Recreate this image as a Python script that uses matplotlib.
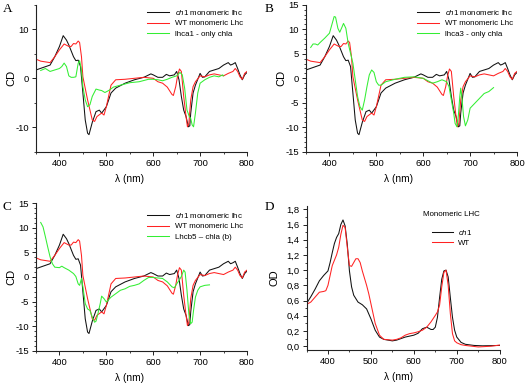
import matplotlib
matplotlib.use("Agg")
import matplotlib.pyplot as plt
from matplotlib.ticker import MultipleLocator, FuncFormatter

plt.rcParams['font.family'] = ['Liberation Sans', 'DejaVu Sans']
plt.rcParams['mathtext.fontset'] = 'custom'
plt.rcParams['mathtext.it'] = 'Liberation Sans:italic'
plt.rcParams['mathtext.rm'] = 'Liberation Sans'

# ---------------- CD data (panels A, B, C) ----------------
wl_ch1 = [350, 380, 390, 400, 408, 415, 420, 430, 435, 440, 445, 450, 455, 460, 463,
          470, 478, 485, 490, 500, 510, 520, 540, 560, 580, 595, 600, 610, 620, 628,
          635, 645, 650, 655, 660, 665, 670, 675, 678, 680, 685, 690, 700, 705, 710,
          720, 730, 740, 750, 760, 765, 770, 775, 780, 785, 790, 795, 800]
cd_ch1 = [1.7, 2.7, 4.4, 6.5, 8.7, 7.8, 6.8, 4.4, 3.6, 3.7, 2.4, -3.0, -8.5, -11.2, -11.5,
          -9.0, -6.8, -6.5, -7.1, -5.8, -3.0, -2.0, -1.0, -0.3, 0.2, 0.9, 0.7, 0.2, 0.2, 0.8,
          0.5, 0.7, 1.4, -0.3, -3.7, -6.5, -7.8, -9.9, -9.7, -7.1, -3.0, -1.4, 1.0, 0.2, 0.3,
          1.4, 1.7, 2.0, 2.7, 3.2, 2.7, 2.9, 3.2, 2.0, 0.7, -0.3, 0.7, 1.2]

wl_wt = [350, 360, 380, 390, 400, 410, 420, 425, 430, 435, 440, 443, 447, 450, 460,
         470, 475, 480, 490, 495, 500, 510, 520, 540, 560, 580, 600, 610, 620, 630,
         640, 643, 648, 652, 656, 660, 665, 670, 673, 676, 680, 685, 690, 700, 710,
         720, 730, 740, 750, 760, 770, 775, 780, 785, 790, 795, 800]
cd_wt = [3.9, 3.5, 3.2, 4.4, 5.8, 7.0, 6.5, 6.5, 7.1, 7.0, 7.6, 7.3, 4.4, 0.3, -4.4,
         -8.5, -8.8, -7.8, -7.1, -7.5, -5.8, -1.4, -0.3, -0.2, 0.0, 0.2, 0.0, -0.7, -1.0, -1.8,
         -3.3, -3.5, -1.7, 0.5, 1.9, 1.4, -3.7, -7.8, -9.9, -9.2, -4.4, -1.7, -0.7, 0.5, 0.3,
         0.7, 0.9, 0.7, 0.5, 1.0, 1.4, 2.0, 1.4, 0.3, -0.2, 1.0, 1.4]

wl_lhca1 = [360, 370, 380, 390, 400, 405, 410, 415, 420, 425, 430, 435, 440, 443, 447,
            450, 455, 460, 465, 470, 478, 485, 490, 497, 505, 515, 530, 550, 570, 590,
            600, 610, 620, 630, 640, 650, 657, 662, 667, 672, 677, 680, 683, 686, 690,
            695, 700, 710, 720, 730, 740, 748, 750]
cd_lhca1 = [1.6, 2.0, 1.4, 1.7, 2.0, 2.4, 3.1, 2.4, 0.5, 0.2, 0.2, 0.3, 3.1, 3.6, 1.7,
            -1.7, -4.4, -5.8, -5.4, -3.7, -2.2, -2.4, -2.5, -2.9, -2.5, -1.8, -1.4, -0.9, -0.7, -0.2,
            -0.2, -0.3, -0.5, -0.2, 0.2, 0.5, 1.2, 0.7, -2.0, -6.5, -7.8, -8.2, -9.5, -9.9, -7.1,
            -3.0, -1.0, -0.3, 0.2, 0.5, 0.3, 0.7, 0.5]

wl_lhca3 = [360, 365, 370, 375, 380, 390, 400, 405, 410, 413, 418, 422, 427, 430, 435,
            440, 445, 450, 455, 460, 465, 470, 475, 480, 485, 490, 495, 500, 505, 510,
            520, 540, 560, 580, 600, 610, 620, 630, 640, 650, 655, 660, 665, 668, 672,
            675, 678, 680, 683, 686, 690, 695, 700, 710, 720, 730, 740, 750]
cd_lhca3 = [6.3, 7.0, 7.0, 6.8, 7.3, 8.2, 9.2, 10.9, 12.6, 12.5, 10.2, 9.4, 10.5, 11.2, 10.2,
            7.1, 5.1, 3.1, -0.3, -3.7, -5.8, -6.5, -4.4, -1.7, 0.7, 1.7, 1.2, -0.7, -1.4, -1.4,
            -0.7, -0.2, 0.2, 0.3, 0.0, -0.5, -1.0, -0.7, -0.3, -0.7, -1.7, -4.4, -7.1, -9.2, -9.9,
            -7.5, -3.7, -2.0, -4.4, -7.8, -9.7, -8.5, -6.1, -5.1, -4.1, -3.1, -2.7, -1.9]

wl_lhcb5 = [360, 365, 370, 375, 380, 385, 390, 400, 405, 410, 420, 430, 435, 440, 443,
            447, 450, 455, 460, 465, 470, 475, 478, 482, 487, 490, 495, 500, 510, 520,
            530, 540, 550, 560, 570, 580, 590, 600, 610, 620, 630, 640, 645, 650, 655,
            660, 665, 668, 672, 676, 680, 683, 686, 690, 695, 700, 710, 720]
cd_lhcb5 = [11.1, 10.2, 8.2, 6.1, 4.1, 2.7, 2.0, 1.9, 2.2, 1.9, 1.4, 0.7, 0.1, -1.4, -1.7,
            -0.3, -2.0, -5.4, -6.5, -6.8, -8.2, -9.2, -9.0, -7.5, -5.4, -3.9, -4.4, -5.1, -4.1, -3.4,
            -2.7, -2.4, -1.9, -1.7, -1.4, -0.7, -0.1, -0.1, -0.2, -0.3, -1.0, -2.0, -2.2, -1.4, -0.7,
            0.1, 1.4, 1.0, -2.7, -7.5, -9.5, -9.2, -6.8, -4.1, -2.7, -2.0, -1.7, -1.6]

# ---------------- OD data (panel D) ----------------
wl_od_ch1 = [350, 360, 370, 380, 390, 400, 405, 410, 415, 420, 425, 430, 435, 440, 445,
             450, 455, 460, 470, 480, 490, 500, 510, 520, 530, 550, 560, 570, 580, 600,
             610, 620, 630, 640, 645, 650, 655, 660, 665, 670, 675, 680, 685, 690, 695,
             700, 710, 720, 740, 760, 800]
od_ch1 = [0.56, 0.65, 0.75, 0.86, 0.93, 0.99, 1.10, 1.23, 1.35, 1.43, 1.48, 1.60, 1.66, 1.58, 1.34,
          0.99, 0.78, 0.67, 0.58, 0.545, 0.49, 0.36, 0.21, 0.12, 0.09, 0.07, 0.08, 0.10, 0.12, 0.145,
          0.17, 0.23, 0.25, 0.22, 0.22, 0.25, 0.38, 0.64, 0.88, 0.99, 1.0, 0.91, 0.64, 0.38, 0.21,
          0.12, 0.05, 0.025, 0.01, 0.005, 0.01]

wl_od_wt = [350, 360, 370, 380, 390, 395, 400, 405, 410, 415, 420, 425, 430, 435, 440,
            445, 450, 455, 460, 465, 470, 475, 480, 490, 495, 500, 510, 520, 530, 550,
            560, 570, 580, 590, 600, 610, 620, 630, 640, 650, 655, 660, 665, 670, 675,
            680, 685, 690, 695, 700, 710, 720, 750, 780, 800]
od_wt = [0.55, 0.58, 0.645, 0.71, 0.72, 0.73, 0.80, 0.93, 1.06, 1.13, 1.20, 1.30, 1.47, 1.59, 1.56,
         1.30, 1.06, 1.05, 1.10, 1.15, 1.15, 1.10, 0.99, 0.80, 0.69, 0.56, 0.30, 0.145, 0.09, 0.08,
         0.09, 0.11, 0.145, 0.165, 0.175, 0.19, 0.21, 0.25, 0.32, 0.405, 0.45, 0.54, 0.78, 0.97, 1.0,
         0.80, 0.43, 0.165, 0.07, 0.045, 0.02, 0.01, -0.01, 0.0, 0.015]

panel_letters = ["A", "B", "C", "D"]
green_labels = ["lhca1 - only chla", "lhca3 - only chla", "Lhcb5 \u2013 chla (b)"]
ch1_label = r"$\it{ch1}$ monomeric lhc"
wt_label = "WT monomeric Lhc"

W, H = 526, 383
fig = plt.figure(figsize=(W / 100, H / 100), dpi=100)

def axes_px(left, right, top, bottom):
    return fig.add_axes([left / W, 1 - bottom / H, (right - left) / W, (bottom - top) / H])

axA = axes_px(36, 247, 4.8, 151.8)
axB = axes_px(306, 517, 4.8, 151.8)
axC = axes_px(36, 247, 203.3, 350.7)
axD = axes_px(306.5, 499.7, 205.5, 350)

BLACK = '#111111'
RED = '#ff2222'
GREEN = '#33ee33'
LW = 0.75
FS_TICK = 6.8
FS_LEG = 5.7

def style(ax):
    for s in ['top', 'right']:
        ax.spines[s].set_visible(False)
    for s in ['left', 'bottom']:
        ax.spines[s].set_linewidth(0.8)
        ax.spines[s].set_color('#222222')
    ax.tick_params(which='major', direction='out', length=3, width=0.7, labelsize=FS_TICK,
                   pad=2, color='#222222')
    ax.tick_params(which='minor', direction='out', length=1.6, width=0.6, color='#222222')
    ax.set_xlim(350, 800)
    ax.xaxis.set_major_locator(MultipleLocator(100))
    ax.xaxis.set_minor_locator(MultipleLocator(50))
    ax.set_xlabel("\u03bb (nm)", fontsize=FS_TICK + 0.5)

cd_axes = [axA, axB, axC]
greens = [(wl_lhca1, cd_lhca1), (wl_lhca3, cd_lhca3), (wl_lhcb5, cd_lhcb5)]
leg_anchor = [(147, 8), (417, 8), (147, 211)]

for i, ax in enumerate(cd_axes):
    style(ax)
    l1, = ax.plot(wl_ch1, cd_ch1, color=BLACK, lw=LW, label=ch1_label)
    l2, = ax.plot(wl_wt, cd_wt, color=RED, lw=LW, label=wt_label)
    gx, gy = greens[i]
    l3, = ax.plot(gx, gy, color=GREEN, lw=LW, label=green_labels[i])
    ax.set_ylim(-15, 15)
    if i == 0:
        ax.yaxis.set_major_locator(MultipleLocator(10))
        ax.yaxis.set_minor_locator(MultipleLocator(5))
    else:
        ax.yaxis.set_major_locator(MultipleLocator(5))
        ax.yaxis.set_minor_locator(MultipleLocator(1))
    ax.yaxis.set_major_formatter(FuncFormatter(lambda v, p: f"{v:g}"))
    ax.set_ylabel("CD", fontsize=FS_TICK + 1.2)
    lx, ly = leg_anchor[i]
    ax.legend(handles=[l1, l2, l3], loc='upper left',
              bbox_to_anchor=(lx / W, 1 - ly / H), bbox_transform=fig.transFigure,
              frameon=False, fontsize=FS_LEG, handlelength=2.8, handletextpad=0.75,
              borderpad=0, borderaxespad=0, labelspacing=0.35)

# panel D
style(axD)
d1, = axD.plot(wl_od_ch1, od_ch1, color=BLACK, lw=LW, label=r"$\it{ch1}$")
d2, = axD.plot(wl_od_wt, od_wt, color=RED, lw=LW, label="WT")
axD.set_ylim(-0.05, 1.85)
axD.yaxis.set_major_locator(MultipleLocator(0.2))
axD.yaxis.set_minor_locator(MultipleLocator(0.1))
axD.yaxis.set_major_formatter(FuncFormatter(lambda v, p: f"{v:.1f}".replace('.', ',')))
axD.set_ylabel("OD", fontsize=FS_TICK + 1.2)
axD.legend(handles=[d1, d2], loc='upper left',
           bbox_to_anchor=(432 / W, 1 - 228 / H), bbox_transform=fig.transFigure,
           frameon=False, fontsize=FS_LEG, handlelength=2.7, handletextpad=0.6,
           borderpad=0, borderaxespad=0, labelspacing=0.25)
fig.text(423 / W, 1 - 215 / H, "Monomeric LHC", fontsize=FS_LEG, ha='left', va='center')

# label positions
for ax, fx, ycx in [(axA, 0.445, 11.5), (axB, 0.44, 281.5), (axC, 0.445, 11.5), (axD, 0.477, 274.5)]:
    ax.xaxis.set_label_coords(fx, -0.185)
    ax.xaxis.label.set_va('center')
    bb = ax.get_position()
    x_axes = (ycx / W - bb.x0) / bb.width
    ax.yaxis.set_label_coords(x_axes, 0.5)
    ax.yaxis.label.set_va('center')

# panel letters
for letter, (px, py) in zip(panel_letters, [(2.5, 9), (265, 9), (2.5, 207), (265, 207)]):
    fig.text(px / W, 1 - py / H, letter, fontsize=9.5, family='Liberation Serif',
             ha='left', va='center')

fig.savefig("out.png", dpi=100)
